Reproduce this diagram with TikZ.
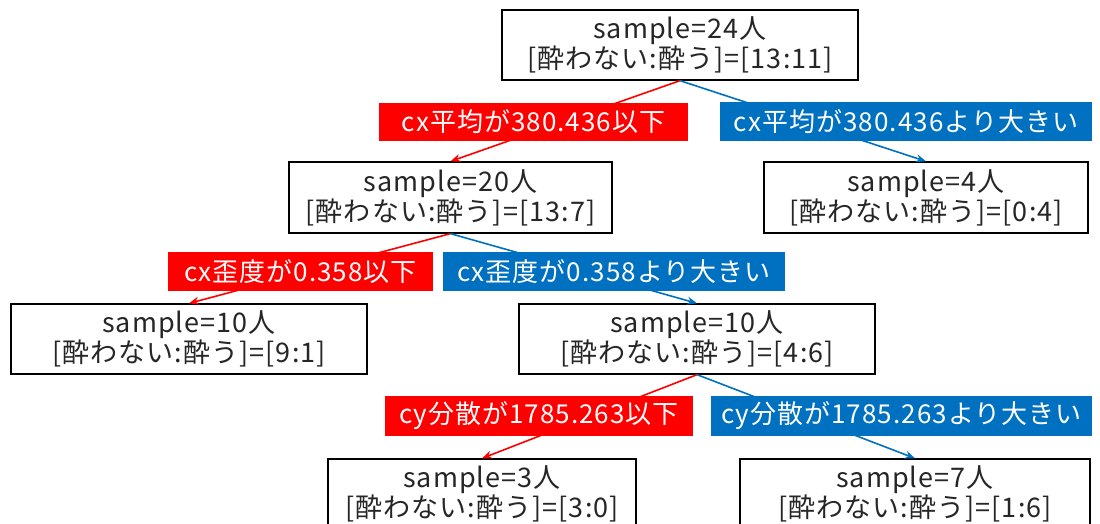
\documentclass[tikz,border=0pt]{standalone}
\usepackage{fontspec}
\setmainfont{Noto Sans CJK JP}
\newfontfamily\boxfont[LetterSpace=4]{Noto Sans CJK JP}
\usetikzlibrary{arrows.meta}
\definecolor{lred}{HTML}{FF0000}
\definecolor{lblue}{HTML}{0070C0}
\definecolor{ink}{HTML}{262626}
\tikzset{
  box/.style={draw=black,line width=1.3pt,fill=white,align=center,text=ink,
    font=\boxfont\fontsize{27}{30}\selectfont,inner sep=0pt},
  lab/.style={align=center,text=white,font=\boxfont\fontsize{26}{28}\selectfont,inner sep=0pt},
  redlab/.style={lab,fill=lred},
  bluelab/.style={lab,fill=lblue},
  con/.style={line width=1.6pt,-{Stealth[length=10pt,width=8pt]}},
  redcon/.style={con,draw=lred},
  bluecon/.style={con,draw=lblue}
}
\begin{document}
\begin{tikzpicture}[x=1pt,y=-1pt]
\useasboundingbox (0,0) rectangle (1100,524);
\clip (0,0) rectangle (1100,524);
\node[box,minimum width=356pt,minimum height=70pt] (root) at (680,45) {sample=24人\\{}[酔わない:酔う]=[13:11]};
\node[box,minimum width=323pt,minimum height=71pt] (n20) at (450.5,197.5) {sample=20人\\{}[酔わない:酔う]=[13:7]};
\node[box,minimum width=324pt,minimum height=71pt] (n4) at (926,197.5) {sample=4人\\{}[酔わない:酔う]=[0:4]};
\node[box,minimum width=356pt,minimum height=70pt] (n10l) at (189,339) {sample=10人\\{}[酔わない:酔う]=[9:1]};
\node[box,minimum width=356pt,minimum height=70pt] (n10r) at (697,339) {sample=10人\\{}[酔わない:酔う]=[4:6]};
\node[box,minimum width=308pt,minimum height=70pt] (n3) at (482,494) {sample=3人\\{}[酔わない:酔う]=[3:0]};
\node[box,minimum width=350pt,minimum height=70pt] (n7) at (915,494) {sample=7人\\{}[酔わない:酔う]=[1:6]};

\draw[redcon] (root.south) -- (n20.north);
\draw[bluecon] (root.south) -- (n4.north);
\draw[redcon] (n20.south) -- (n10l.north);
\draw[bluecon] (n20.south) -- (n10r.north);
\draw[redcon] (n10r.south) -- (n3.north);
\draw[bluecon] (n10r.south) -- (n7.north);

\node[redlab,minimum width=309pt,minimum height=38pt] (l1r) at (533.5,122) {cx平均が380.436以下};
\node[bluelab,minimum width=372pt,minimum height=39pt] (l1b) at (906,121.5) {cx平均が380.436より大きい};
\node[redlab,minimum width=265pt,minimum height=39pt] (l2r) at (300.5,271.5) {cx歪度が0.358以下};
\node[bluelab,minimum width=342pt,minimum height=39pt] (l2b) at (614,271.5) {cx歪度が0.358より大きい};
\node[redlab,minimum width=308pt,minimum height=40pt] (l3r) at (539,416) {cy分散が1785.263以下};
\node[bluelab,minimum width=381pt,minimum height=40pt] (l3b) at (901.5,416) {cy分散が1785.263より大きい};
\end{tikzpicture}
\end{document}
